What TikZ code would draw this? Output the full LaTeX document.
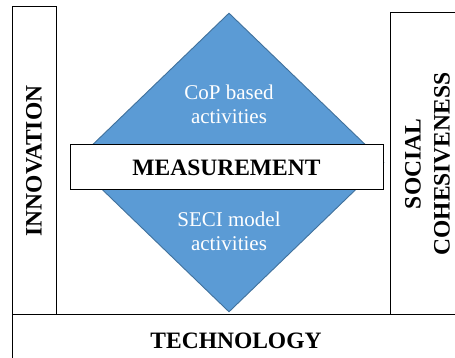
\documentclass[tikz,border=0pt]{standalone}
\usepackage{fontspec}
\setmainfont{Liberation Serif}
\usepackage{tikz}
\usetikzlibrary{shapes, positioning}
\definecolor{diamondblue}{HTML}{5B9BD5}
\definecolor{diamondedge}{HTML}{41719C}

\begin{document}
\begin{tikzpicture}[x=1pt, y=1pt,
    pillar/.style={draw=black, line width=1pt, fill=white, rectangle, rotate=90, inner sep=0pt, font=\fontsize{23.5}{29}\selectfont\bfseries, align=center},
    base/.style={draw=black, line width=1pt, fill=white, rectangle, inner sep=0pt, font=\fontsize{23.5}{28}\selectfont\bfseries},
    core/.style={draw=diamondedge, line width=0.9pt, fill=diamondblue, diamond, inner sep=0pt},
    activity/.style={text=white, align=center, font=\fontsize{21}{24}\selectfont}
]
\useasboundingbox (0,0) rectangle (455,358);
\clip (0,0) rectangle (455,358);
\node[base, minimum width=448, minimum height=51] (tech) at (236,17.5) {TECHNOLOGY};
\node[pillar, minimum width=308, minimum height=44] (innov) at (34,197) {INNOVATION};
\node[pillar, minimum width=302, minimum height=75] (social) at (427.5,194) {SOCIAL\\COHESIVENESS};
\node[core, minimum width=310, minimum height=299] (diamond) at (229,195.5) {};
\node[base, minimum width=313, minimum height=45] (measure) at (226.5,190.5) {MEASUREMENT};
\node[activity] (cop) at (229,254) {CoP based\\activities};
\node[activity] (seci) at (229,127) {SECI model\\activities};
\end{tikzpicture}
\end{document}
